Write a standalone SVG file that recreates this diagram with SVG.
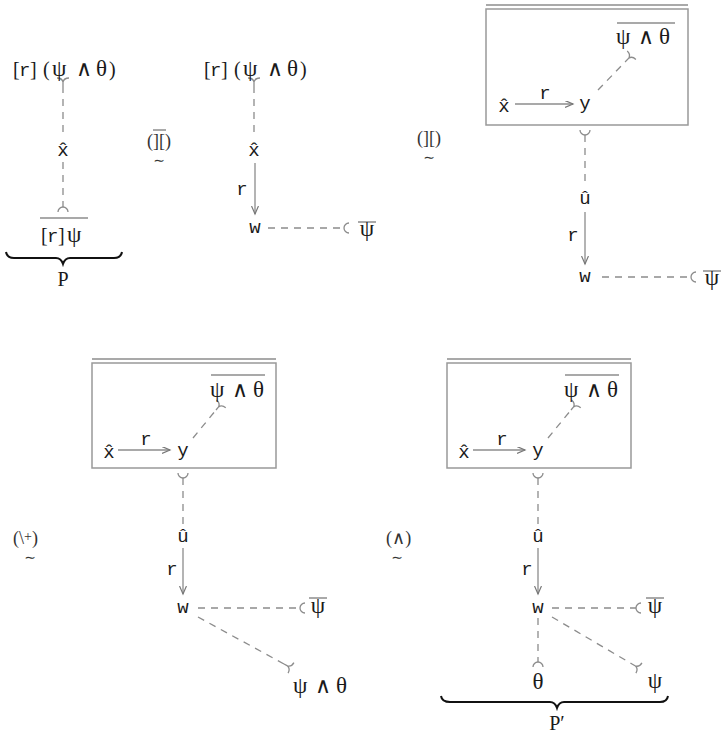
<svg xmlns="http://www.w3.org/2000/svg" xmlns:xlink="http://www.w3.org/1999/xlink" width="723" height="733" viewBox="0 0 723 733">
<style>
text{font-family:"Liberation Serif","DejaVu Serif",serif;font-size:20px;fill:#1a1a1a}
.g{font-size:23px}
.a{font-family:"DejaVu Sans","Liberation Sans",sans-serif;font-size:22px;font-weight:200}
.m{font-family:"Liberation Mono","DejaVu Sans Mono",monospace;font-size:19px}
.c{text-anchor:middle}
.rl{font-size:18px;fill:#333}
.tl{font-family:"DejaVu Sans",sans-serif;font-size:14px;fill:#333;text-anchor:middle}
.dash{stroke:#8c8c8c;stroke-width:1.3;stroke-dasharray:7 6;fill:none}
.arr{stroke:#8c8c8c;stroke-width:1.3;fill:none;marker-end:url(#ah)}
.end{stroke:#8c8c8c;stroke-width:1.3;fill:none}
.ov{stroke:#8c8c8c;stroke-width:1.5}
.box{stroke:#999;stroke-width:1.5;fill:none}
.brace{stroke:#111;stroke-width:2;fill:none}
</style>
<defs>
<marker id="ah" markerUnits="userSpaceOnUse" markerWidth="10" markerHeight="8" refX="8" refY="3.5" orient="auto">
<path d="M0,0 L8,3.5 L0,7" stroke="#777" stroke-width="1.2" fill="none"/>
</marker>
<path id="fork" d="M0,0 V-4 M0,-4 Q-1,-8 -6,-8 M0,-4 Q1,-8 6,-8"/>
<path id="cup" d="M-5,5 A5,5 0 0 1 5,5"/>
</defs>

<!-- rule labels -->
<g id="rule1">
<text class="rl" x="147" y="147">(][)</text>
<line x1="153" y1="130" x2="166" y2="130" stroke="#555" stroke-width="1"/>
<text class="tl" x="159" y="165">∼</text>
</g>
<g id="rule2">
<text class="rl" x="417" y="144">(][)</text>
<text class="tl" x="429" y="162">∼</text>
</g>
<g id="rule3">
<text class="rl" x="13" y="544">(\<tspan font-size="14" dy="-3">+</tspan><tspan dy="3">)</tspan></text>
<text class="tl" x="30" y="562">∼</text>
</g>
<g id="rule4">
<text class="rl" x="386" y="544">(∧)</text>
<text class="tl" x="397" y="562">∼</text>
</g>

<!-- connectors -->
<g id="connectors">
<!-- panel 1 -->
<line class="dash" x1="63" y1="86" x2="63" y2="138"/>
<line class="dash" x1="63" y1="162" x2="63" y2="207"/>
<use href="#fork" class="end" transform="translate(63,86)"/>
<use href="#cup" class="end" transform="translate(63,207)"/>
<!-- panel 2 -->
<line class="dash" x1="254" y1="86" x2="254" y2="136"/>
<use href="#fork" class="end" transform="translate(254,86)"/>
<line class="arr" x1="255" y1="163" x2="255" y2="214"/>
<line class="dash" x1="268" y1="228" x2="344" y2="228"/>
<use href="#cup" class="end" transform="translate(344,228) rotate(-90)"/>
<!-- panel 3 -->
<line class="arr" x1="515" y1="104" x2="573" y2="104"/>
<line class="dash" x1="598" y1="90" x2="626" y2="61"/>
<use href="#fork" class="end" transform="translate(626,61) rotate(44)"/>
<use href="#cup" class="end" transform="translate(585,135) rotate(180)"/>
<line class="dash" x1="585" y1="135" x2="585" y2="184"/>
<line class="arr" x1="585" y1="212" x2="585" y2="264"/>
<line class="dash" x1="602" y1="277" x2="691" y2="277"/>
<use href="#cup" class="end" transform="translate(691,277) rotate(-90)"/>
<!-- panel 4 -->
<line class="arr" x1="118" y1="450" x2="170" y2="450"/>
<line class="dash" x1="193" y1="438" x2="216" y2="410"/>
<use href="#fork" class="end" transform="translate(216,410) rotate(40)"/>
<use href="#cup" class="end" transform="translate(183,478) rotate(180)"/>
<line class="dash" x1="183" y1="478" x2="183" y2="524"/>
<line class="arr" x1="183" y1="548" x2="183" y2="594"/>
<line class="dash" x1="198" y1="608" x2="300" y2="608"/>
<use href="#cup" class="end" transform="translate(300,608) rotate(-90)"/>
<line class="dash" x1="198" y1="617" x2="284" y2="664"/>
<use href="#fork" class="end" transform="translate(284,664) rotate(119)"/>
<!-- panel 5 -->
<line class="arr" x1="473" y1="450" x2="525" y2="450"/>
<line class="dash" x1="548" y1="438" x2="571" y2="410"/>
<use href="#fork" class="end" transform="translate(571,410) rotate(40)"/>
<use href="#cup" class="end" transform="translate(538,478) rotate(180)"/>
<line class="dash" x1="538" y1="478" x2="538" y2="524"/>
<line class="arr" x1="538" y1="548" x2="538" y2="594"/>
<line class="dash" x1="552" y1="608" x2="636" y2="608"/>
<use href="#cup" class="end" transform="translate(636,608) rotate(-90)"/>
<line class="dash" x1="552" y1="617" x2="632" y2="664"/>
<use href="#fork" class="end" transform="translate(632,664) rotate(120)"/>
<line class="dash" x1="538" y1="618" x2="538" y2="662"/>
<use href="#cup" class="end" transform="translate(538,662)"/>
</g>

<!-- panel 1 nodes -->
<g id="p1-top">
<text y="76"><tspan x="13">[</tspan><tspan class="m" x="19">r</tspan><tspan x="30">]</tspan><tspan x="43">(</tspan><tspan class="g" x="52">ψ</tspan><tspan class="a" x="76">∧</tspan><tspan class="g" x="96">θ</tspan><tspan x="109">)</tspan></text>
</g>
<g id="p1-x"><text class="m c" x="63" y="156">x̂</text></g>
<g id="p1-bot">
<line class="ov" x1="40" y1="218" x2="88" y2="218"/>
<text y="242"><tspan x="41">[</tspan><tspan class="m" x="47">r</tspan><tspan x="58">]</tspan><tspan class="g" x="67">ψ</tspan></text>
</g>
<g id="p1-brace">
<path class="brace" d="M6,252 Q7,258 14,258 L56,258 Q61,258 63,264 Q65,258 70,258 L114,258 Q121,258 122,252"/>
<text class="c" x="63" y="286">P</text>
</g>

<!-- panel 2 nodes -->
<g id="p2-top">
<text y="76"><tspan x="204">[</tspan><tspan class="m" x="210">r</tspan><tspan x="221">]</tspan><tspan x="234">(</tspan><tspan class="g" x="243">ψ</tspan><tspan class="a" x="267">∧</tspan><tspan class="g" x="287">θ</tspan><tspan x="300">)</tspan></text>
</g>
<g id="p2-x"><text class="m c" x="254" y="156">x̂</text></g>
<g id="p2-r"><text class="m c" x="242" y="195">r</text></g>
<g id="p2-w"><text class="m c" x="255" y="233">w</text></g>
<g id="p2-psi">
<line class="ov" x1="358" y1="222" x2="376" y2="222"/>
<text class="g c" x="367" y="236">ψ</text>
</g>

<!-- panel 3 -->
<g id="p3-box">
<line class="ov" x1="486" y1="5" x2="688" y2="5"/>
<rect class="box" x="486" y="9" width="202" height="116"/>
</g>
<g id="p3-pt">
<line class="ov" x1="617" y1="23" x2="675" y2="23"/>
<text class="g" y="44"><tspan x="616">ψ</tspan><tspan class="a" x="638">∧</tspan><tspan x="659">θ</tspan></text>
</g>
<g id="p3-x"><text class="m c" x="504" y="112">x̂</text></g>
<g id="p3-r1"><text class="m c" x="545" y="99">r</text></g>
<g id="p3-y"><text class="m c" x="585" y="109">y</text></g>
<g id="p3-u"><text class="m c" x="585" y="204">û</text></g>
<g id="p3-r2"><text class="m c" x="573" y="241">r</text></g>
<g id="p3-w"><text class="m c" x="585" y="282">w</text></g>
<g id="p3-psi">
<line class="ov" x1="703" y1="271" x2="721" y2="271"/>
<text class="g c" x="712" y="285">ψ</text>
</g>

<!-- panel 4 -->
<g id="p4-box">
<line class="ov" x1="92" y1="359" x2="276" y2="359"/>
<rect class="box" x="92" y="363" width="184" height="105"/>
</g>
<g id="p4-pt">
<line class="ov" x1="211" y1="375" x2="265" y2="375"/>
<text class="g" y="397"><tspan x="210">ψ</tspan><tspan class="a" x="232">∧</tspan><tspan x="253">θ</tspan></text>
</g>
<g id="p4-x"><text class="m c" x="109" y="458">x̂</text></g>
<g id="p4-r1"><text class="m c" x="146" y="445">r</text></g>
<g id="p4-y"><text class="m c" x="183" y="456">y</text></g>
<g id="p4-u"><text class="m c" x="183" y="542">û</text></g>
<g id="p4-r2"><text class="m c" x="172" y="575">r</text></g>
<g id="p4-w"><text class="m c" x="183" y="613">w</text></g>
<g id="p4-psi">
<line class="ov" x1="309" y1="598" x2="327" y2="598"/>
<text class="g c" x="318" y="613">ψ</text>
</g>
<g id="p4-pt2"><text class="g" y="693"><tspan x="293">ψ</tspan><tspan class="a" x="315">∧</tspan><tspan x="336">θ</tspan></text></g>

<!-- panel 5 -->
<g id="p5-box">
<line class="ov" x1="447" y1="359" x2="631" y2="359"/>
<rect class="box" x="447" y="363" width="184" height="105"/>
</g>
<g id="p5-pt">
<line class="ov" x1="565" y1="375" x2="619" y2="375"/>
<text class="g" y="397"><tspan x="564">ψ</tspan><tspan class="a" x="586">∧</tspan><tspan x="607">θ</tspan></text>
</g>
<g id="p5-x"><text class="m c" x="464" y="458">x̂</text></g>
<g id="p5-r1"><text class="m c" x="502" y="445">r</text></g>
<g id="p5-y"><text class="m c" x="538" y="456">y</text></g>
<g id="p5-u"><text class="m c" x="538" y="542">û</text></g>
<g id="p5-r2"><text class="m c" x="527" y="575">r</text></g>
<g id="p5-w"><text class="m c" x="538" y="613">w</text></g>
<g id="p5-psi">
<line class="ov" x1="646" y1="598" x2="664" y2="598"/>
<text class="g c" x="655" y="613">ψ</text>
</g>
<g id="p5-psi2"><text class="g c" x="655" y="688">ψ</text></g>
<g id="p5-theta"><text class="g c" x="538" y="689">θ</text></g>
<g id="p5-brace">
<path class="brace" d="M441,696 Q442,702 450,702 L550,702 Q555,702 557,708 Q559,702 564,702 L660,702 Q667,702 668,696"/>
<text class="c" x="557" y="730">P′</text>
</g>
</svg>
